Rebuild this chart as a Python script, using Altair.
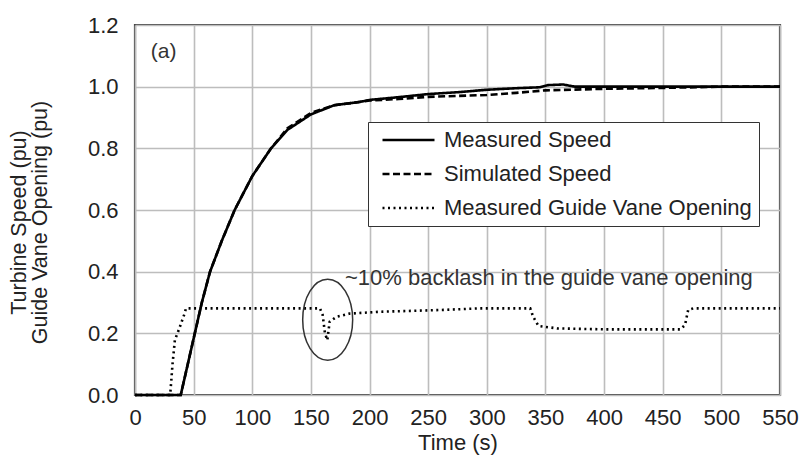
import altair as alt
import pandas as pd

# Measured turbine speed (pu) against time (s)
meas_t = [0, 39, 45, 51, 57, 64, 74, 85, 100, 116, 130, 150, 170, 191, 200,
          225, 250, 275, 300, 325, 345, 352, 365, 375, 400, 450, 500, 550]
meas_v = [0, 0, 0.10, 0.20, 0.30, 0.40, 0.50, 0.60, 0.71, 0.80, 0.86, 0.91,
          0.94, 0.95, 0.957, 0.966, 0.976, 0.982, 0.99, 0.995, 0.998, 1.005,
          1.007, 1.0, 1.0, 1.0, 1.0, 1.0]

# Simulated turbine speed (pu)
sim_t = [0, 39, 45, 51, 57, 64, 74, 85, 100, 116, 130, 150, 170, 191, 200,
         225, 250, 275, 300, 325, 350, 400, 450, 500, 550]
sim_v = [0, 0, 0.10, 0.20, 0.30, 0.40, 0.50, 0.60, 0.71, 0.80, 0.865, 0.915,
         0.94, 0.95, 0.955, 0.96, 0.967, 0.97, 0.973, 0.98, 0.988, 0.993,
         0.996, 1.0, 1.0]

# Measured guide vane opening (pu)
gv_t = [0, 30, 32, 34, 37.8, 41.8, 43.5, 157.7, 160, 162, 164, 166, 172, 183,
        209, 237, 263, 294, 337, 339.5, 344, 360, 400, 465, 469, 471.7, 476, 550]
gv_v = [0, 0, 0.10, 0.178, 0.216, 0.259, 0.281, 0.281, 0.26, 0.20, 0.178,
        0.238, 0.254, 0.264, 0.27, 0.273, 0.276, 0.281, 0.281, 0.254, 0.224,
        0.216, 0.213, 0.213, 0.227, 0.276, 0.281, 0.281]

series_names = ["Measured Speed", "Simulated Speed", "Measured Guide Vane Opening"]
dash_styles = [[1, 0], [7, 3.5], [2, 3.5]]
line_widths = [2.6, 2.6, 2.2]

x_ticks = list(range(0, 551, 50))
y_ticks = [0.0, 0.2, 0.4, 0.6, 0.8, 1.0, 1.2]

# Annotation texts and the circled backlash region
note_text = ["~10% backlash in the guide vane opening"]
note_t = [179]
note_v = [0.357]
panel_text = ["(a)"]
panel_t = [13.4]
panel_v = [1.092]
ring_t = [164.3]
ring_v = [0.244]

FONT = "Liberation Sans"

rows = []
for name, ts, vs in zip(series_names, [meas_t, sim_t, gv_t], [meas_v, sim_v, gv_v]):
    for t, v in zip(ts, vs):
        rows.append({"series": name, "t": t, "v": v})
df = pd.DataFrame(rows)

x_scale = alt.Scale(domain=[0, 550], nice=False, zero=False)
y_scale = alt.Scale(domain=[0, 1.2], nice=False)

x_axis = alt.Axis(values=x_ticks, title="Time (s)", grid=True, domain=False,
                  ticks=False, labelPadding=12, titlePadding=4, labelFlush=False)
y_axis = alt.Axis(values=y_ticks, format=".1f", grid=True, domain=False,
                  ticks=False, labelPadding=17, titlePadding=36,
                  title=["Turbine Speed (pu)", "Guide Vane Opening (pu)"],
                  titleLineHeight=21, titleFontSize=21.5, titleY=197)

lines = alt.Chart(df).mark_line(color="black").encode(
    x=alt.X("t:Q", scale=x_scale, axis=x_axis),
    y=alt.Y("v:Q", scale=y_scale, axis=y_axis),
    strokeDash=alt.StrokeDash(
        "series:N",
        scale=alt.Scale(domain=series_names, range=dash_styles),
        legend=alt.Legend(title=None, orient="none", legendX=233, legendY=97,
                          symbolType="stroke", symbolSize=2704,
                          symbolStrokeColor="black", symbolStrokeWidth=2.5,
                          symbolOffset=6, clipHeight=22,
                          labelFontSize=22, labelFont=FONT, labelColor="#222",
                          labelOffset=8, rowPadding=12, padding=7,
                          strokeColor="#333", fillColor="white",
                          labelLimit=400),
    ),
    strokeWidth=alt.StrokeWidth(
        "series:N",
        scale=alt.Scale(domain=series_names, range=line_widths),
        legend=None,
    ),
    detail="series:N",
)

note = alt.Chart(pd.DataFrame({"t": note_t, "v": note_v, "txt": note_text})).mark_text(
    align="left", baseline="alphabetic", fontSize=22, font=FONT, color="#333"
).encode(x=alt.X("t:Q", scale=x_scale), y=alt.Y("v:Q", scale=y_scale), text="txt:N")

panel = alt.Chart(pd.DataFrame({"t": panel_t, "v": panel_v, "txt": panel_text})).mark_text(
    align="left", baseline="alphabetic", fontSize=21, font=FONT, color="#333"
).encode(x=alt.X("t:Q", scale=x_scale), y=alt.Y("v:Q", scale=y_scale), text="txt:N")

ring = alt.Chart(pd.DataFrame({"t": ring_t, "v": ring_v})).mark_point(
    shape="M -0.617 0 A 0.617 1 0 1 0 0.617 0 A 0.617 1 0 1 0 -0.617 0",
    size=6561, filled=False, stroke="#333", strokeWidth=1.5, opacity=1
).encode(x=alt.X("t:Q", scale=x_scale), y=alt.Y("v:Q", scale=y_scale))

chart = alt.layer(lines, ring, note, panel).properties(
    width=645, height=370,
    autosize=alt.AutoSizeParams(type="none"),
    padding={"left": 135, "top": 25, "right": 20, "bottom": 64},
    background="white",
).configure_view(
    stroke="#444", strokeWidth=2.2
).configure_axis(
    gridColor="#bdbdbd", gridWidth=1.6, labelFont=FONT, labelFontSize=22,
    labelColor="#222", titleFont=FONT, titleFontSize=22, titleColor="#222",
    titleFontWeight="normal"
)

chart.save("out.html", embed_options={"renderer": "svg", "actions": False})
